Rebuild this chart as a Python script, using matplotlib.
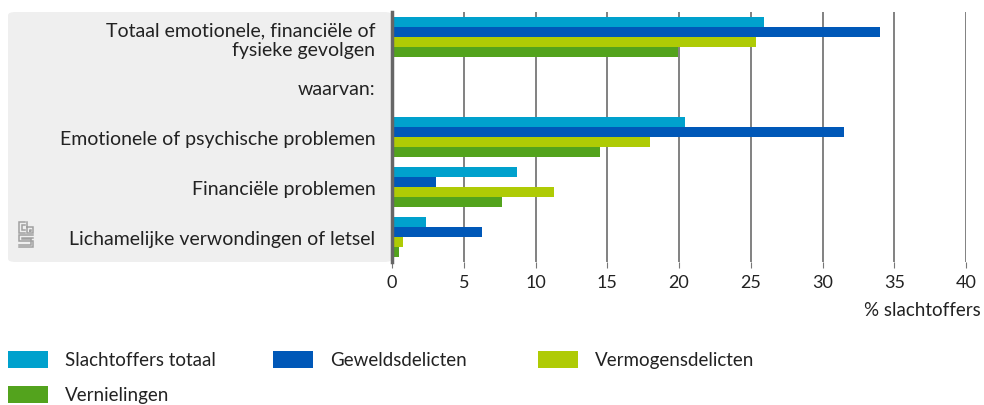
import matplotlib.pyplot as plt
import numpy as np
from matplotlib.patches import FancyBboxPatch, Rectangle

plt.rcParams['font.family'] = ['Lato', 'DejaVu Sans']

# data (% slachtoffers)
categories = ['Totaal emotionele, financiële of\nfysieke gevolgen',
              'waarvan:',
              'Emotionele of psychische problemen',
              'Financiële problemen',
              'Lichamelijke verwondingen of letsel']
series = ['Slachtoffers totaal', 'Geweldsdelicten', 'Vermogensdelicten', 'Vernielingen']
totaal = [25.9, np.nan, 20.4, 8.7, 2.4]
geweld = [34.0, np.nan, 31.5, 3.1, 6.3]
vermogen = [25.4, np.nan, 18.0, 11.3, 0.8]
vernieling = [19.9, np.nan, 14.5, 7.7, 0.5]
colors = ['#00a1cd', '#0058b8', '#afcb05', '#53a31d']

W, H = 984, 406
fig = plt.figure(figsize=(W / 100, H / 100), dpi=100)

# grey label panel behind the category names
panel = FancyBboxPatch((8 / W, (H - 263) / H), (392 - 8) / W, 250 / H,
                       boxstyle='round,pad=0,rounding_size=0.008',
                       transform=fig.transFigure, facecolor='#efefef',
                       edgecolor='none', zorder=-5)
fig.patches.append(panel)

ax = fig.add_axes([392 / W, (H - 263) / H, (966 - 392) / W, 250 / H])
ax.set_facecolor('none')
ax.set_zorder(2)

y = np.arange(len(categories))
h = 0.2
for i, (vals, c) in enumerate(zip([totaal, geweld, vermogen, vernieling], colors)):
    vals = np.nan_to_num(np.array(vals, dtype=float))
    ax.barh(y - 0.3 + i * h, vals, height=h * 0.95, color=c, label=series[i], zorder=3)

ax.set_xlim(0, 40)
ax.set_ylim(len(categories) - 0.5, -0.5)
ax.set_xticks(np.arange(0, 41, 5))
ax.xaxis.grid(True, color='#777777', linewidth=1.3, zorder=1)
ax.tick_params(axis='x', length=4, color='#777777', labelsize=13, pad=5, labelcolor='#222222')
ax.tick_params(axis='y', length=0, labelsize=14, pad=12, labelcolor='#222222')
ax.set_yticks(y)
ax.set_yticklabels(categories, ha='right', linespacing=1.2)
for s in ['top', 'right', 'bottom']:
    ax.spines[s].set_visible(False)
ax.spines['left'].set_color('#666666')
ax.spines['left'].set_linewidth(2.5)
ax.spines['left'].set_zorder(4)

fig.text(981 / W, (H - 311) / H, '% slachtoffers', ha='right', va='center',
         fontsize=13.5, color='#222222')

# legend, three per row
leg_pos = [(8, 361), (273, 361), (538, 361), (8, 396)]
for (lx, ly), name, c in zip(leg_pos, series, colors):
    fig.patches.append(Rectangle((lx / W, (H - ly - 8) / H), 40 / W, 17 / H,
                                 transform=fig.transFigure, facecolor=c, edgecolor='none'))
    fig.text((lx + 57) / W, (H - ly) / H, name, ha='left', va='center',
             fontsize=13.5, color='#222222')

# small logo mark in the panel
lg = fig.add_axes([18 / W, (H - 249) / H, 16 / W, 27 / H])
lg.axis('off')
lg.set_zorder(3)
lg.set_xlim(0, 16)
lg.set_ylim(0, 27)
lk = dict(color='#a0a0a0', linewidth=1.1, solid_joinstyle='miter')
# "c"
lg.plot([7, 1, 1, 7], [26, 26, 15, 15], **lk)
lg.plot([7, 3.5, 3.5, 7], [23, 23, 18, 18], **lk)
# "b"
lg.plot([9, 9, 15, 15, 9], [26, 15, 15, 21, 21], **lk)
lg.plot([11.5, 11.5, 12.5, 12.5, 11.5], [17.5, 18.5, 18.5, 17.5, 17.5], **lk)
# "s"
lg.plot([15, 1, 1, 15, 15, 1], [13, 13, 7.5, 7.5, 1, 1], **lk)
lg.plot([15, 3.5, 3.5, 13, 13, 1], [10.5, 10.5, 9.5, 9.5, 3.5, 3.5], **lk)

fig.savefig('out.png', dpi=100)
